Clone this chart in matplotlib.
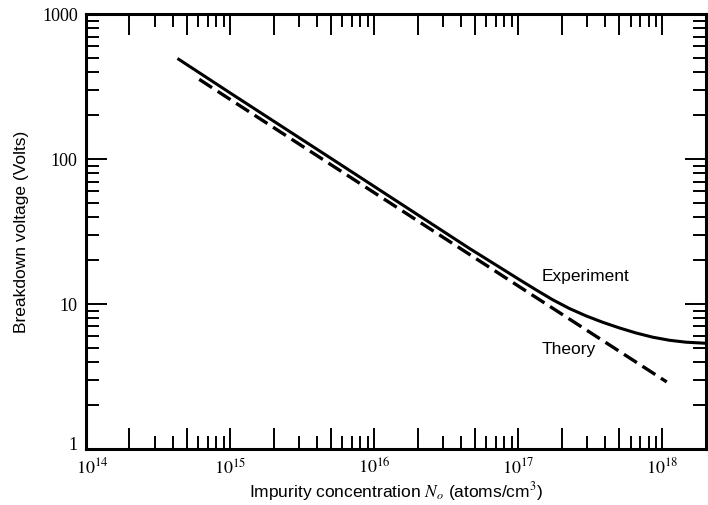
import numpy as np
import matplotlib
matplotlib.use("Agg")
import matplotlib.pyplot as plt
from matplotlib.ticker import FixedLocator, NullFormatter, FixedFormatter
from matplotlib.transforms import ScaledTranslation

plt.rcParams["mathtext.fontset"] = "stix"

# Breakdown voltage vs impurity concentration
exp_conc = [4.4e14, 1e15, 5.1e15, 1e16, 4.57e16, 7.78e16, 1.02e17, 1.33e17,
            1.73e17, 2.26e17, 2.95e17, 3.85e17, 5.02e17, 6.56e17, 8.57e17,
            1.12e18, 1.46e18, 2e18]
exp_volts = [488, 286, 100, 64.7, 24.2, 17.4, 14.7, 12.5,
             10.7, 9.31, 8.28, 7.48, 6.84, 6.31, 5.90,
             5.62, 5.45, 5.36]

theory_conc = [6.1e14, 1e15, 1e16, 1e17, 1.07e18]
theory_volts = [355, 258, 58.6, 13.3, 2.9]

x_tick_values = [1e14, 1e15, 1e16, 1e17, 1e18]
x_tick_labels = ["$10^{14}$", "$10^{15}$", "$10^{16}$", "$10^{17}$", "$10^{18}$"]
y_tick_values = [1, 10, 100, 1000]
y_tick_labels = ["1", "10", "100", "1000"]

fig = plt.figure(figsize=(7.08, 5.05), dpi=100)
ax = fig.add_axes([0.1215, 0.111, 0.8755, 0.861])

ax.plot(exp_conc, exp_volts, color="black", lw=2.2, solid_joinstyle="round")
ax.plot(theory_conc, theory_volts, color="black", lw=2.4, dashes=(4.6, 2.0))

ax.set_xscale("log")
ax.set_yscale("log")
ax.set_xlim(1e14, 2e18)
ax.set_ylim(1, 1000)

# x ticks: long marks at 1, 2, 5 per decade, short at the rest
decades = [1e14, 1e15, 1e16, 1e17, 1e18]
long_x = [d * m for d in decades for m in (1, 2, 5) if d * m <= 2e18]
short_x = [d * m for d in decades for m in (3, 4, 6, 7, 8, 9) if d * m <= 2e18]
ax.xaxis.set_major_locator(FixedLocator(long_x))
ax.xaxis.set_major_formatter(FixedFormatter(
    [x_tick_labels[x_tick_values.index(v)] if v in x_tick_values else "" for v in long_x]))
ax.xaxis.set_minor_locator(FixedLocator(short_x))
ax.xaxis.set_minor_formatter(NullFormatter())

ax.yaxis.set_major_locator(FixedLocator(y_tick_values))
ax.yaxis.set_major_formatter(FixedFormatter(y_tick_labels))
ax.yaxis.set_minor_locator(FixedLocator(
    [d * m for d in (1, 10, 100) for m in range(2, 10)]))
ax.yaxis.set_minor_formatter(NullFormatter())

ax.tick_params(which="both", direction="in", top=True, right=True, width=1.4, colors="black")
ax.tick_params(which="major", length=15, pad=6)
ax.tick_params(which="minor", length=9.5)
ax.tick_params(axis="y", pad=6)

fig.canvas.draw()
for lab in ax.get_xticklabels():
    lab.set_fontsize(13)
for lab in ax.get_yticklabels():
    lab.set_fontfamily("Liberation Serif")
    lab.set_fontsize(13)

# keep the corner labels clear of each other
xt0 = ax.xaxis.get_major_ticks()[0].label1
xt0.set_transform(xt0.get_transform() + ScaledTranslation(0.06, 0, fig.dpi_scale_trans))
yt0 = ax.yaxis.get_major_ticks()[0].label1
yt0.set_transform(yt0.get_transform() + ScaledTranslation(0, 0.05, fig.dpi_scale_trans))

for sp in ax.spines.values():
    sp.set_linewidth(2.2)

ax.set_xlabel("Impurity concentration $N_o$ (atoms/cm$^3$)",
              fontfamily="Liberation Sans", fontsize=12.5, labelpad=2)
ax.set_ylabel("Breakdown voltage (Volts)", fontfamily="Liberation Sans",
              fontsize=12.5, labelpad=9)

ax.text(1.44e17, 15.6, "Experiment", fontfamily="Liberation Sans", fontsize=12.5,
        ha="left", va="center")
ax.text(1.44e17, 4.82, "Theory", fontfamily="Liberation Sans", fontsize=12.5,
        ha="left", va="center")

fig.savefig("out.png", dpi=100)
